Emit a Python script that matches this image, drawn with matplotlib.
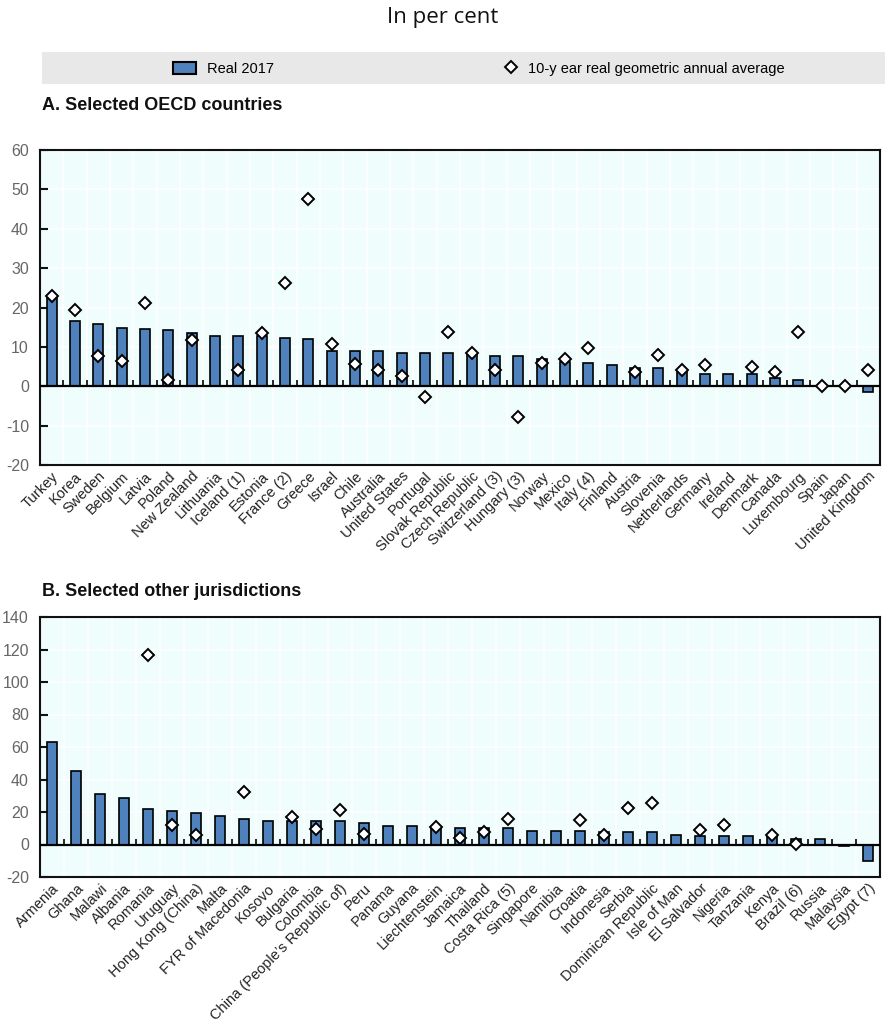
import numpy as np
import matplotlib
matplotlib.use("Agg")
import matplotlib.pyplot as plt
from matplotlib.patches import Rectangle
from matplotlib.lines import Line2D
from matplotlib import font_manager

nan = np.nan

# ---------------- Data ----------------
countries_a = ["Turkey", "Korea", "Sweden", "Belgium", "Latvia", "Poland", "New Zealand",
               "Lithuania", "Iceland (1)", "Estonia", "France (2)", "Greece", "Israel", "Chile",
               "Australia", "United States", "Portugal", "Slovak Republic", "Czech Republic",
               "Switzerland (3)", "Hungary (3)", "Norway", "Mexico", "Italy (4)", "Finland",
               "Austria", "Slovenia", "Netherlands", "Germany", "Ireland", "Denmark", "Canada",
               "Luxembourg", "Spain", "Japan", "United Kingdom"]
real2017_a = [22.6, 16.5, 15.8, 14.8, 14.5, 14.4, 13.6, 12.7, 12.7, 12.7, 12.3, 11.9, 8.9, 8.9,
              8.9, 8.5, 8.5, 8.5, 8.2, 7.6, 7.6, 6.8, 6.1, 5.9, 5.5, 4.7, 4.7, 4.0, 3.0, 3.0,
              3.0, 2.0, 1.7, 0.0, 0.0, -1.4]
avg10_a = [22.8, 19.4, 7.8, 6.5, 21.1, 1.5, 11.7, nan, 4.1, 13.4, 26.2, 47.5, 10.8, 5.7,
           4.1, 2.7, -2.8, 13.8, 8.4, 4.1, -7.9, 5.8, 7.0, 9.6, nan, 3.6, 7.9, 4.1, 5.3, nan,
           4.9, 3.6, 13.8, 0.1, 0.1, 4.1]

countries_b = ["Armenia", "Ghana", "Malawi", "Albania", "Romania", "Uruguay", "Hong Kong (China)",
               "Malta", "FYR of Macedonia", "Kosovo", "Bulgaria", "Colombia",
               "China (People\u2019s Republic of)", "Peru", "Panama", "Guyana", "Liechtenstein",
               "Jamaica", "Thailand", "Costa Rica (5)", "Singapore", "Namibia", "Croatia",
               "Indonesia", "Serbia", "Dominican Republic", "Isle of Man", "El Salvador",
               "Nigeria", "Tanzania", "Kenya", "Brazil (6)", "Russia", "Malaysia", "Egypt (7)"]
real2017_b = [62.8, 45.4, 31.1, 28.9, 21.7, 20.7, 19.6, 17.6, 15.6, 14.5, 14.5, 14.5, 14.5, 13.5,
              11.5, 11.5, 10.4, 10.4, 10.4, 10.4, 8.4, 8.4, 8.4, 7.4, 7.4, 7.4, 6.1, 5.1, 5.1,
              5.1, 5.1, 3.1, 3.1, -1.0, -10.4]
avg10_b = [nan, nan, nan, nan, 116.9, 11.7, 5.7, nan, 32.3, nan, 17.0, 9.8, 21.1, 6.5, nan, nan,
           10.8, 3.7, 7.8, 16.0, nan, nan, 14.9, 5.7, 22.3, 25.4, nan, 8.8, 11.9, nan, 5.7,
           0.6, nan, nan, nan]

yticks_a = [-20, -10, 0, 10, 20, 30, 40, 50, 60]
yticks_b = [-20, 0, 20, 40, 60, 80, 100, 120, 140]

legend_labels = ["Real 2017", "10-y ear real geometric annual average"]
title = "In per cent"
panel_a_title = "A. Selected OECD countries"
panel_b_title = "B. Selected other jurisdictions"

# ---------------- Style ----------------
avail = {f.name for f in font_manager.fontManager.ttflist}
narrow = ["Liberation Sans Narrow", "Liberation Sans", "DejaVu Sans"]
narrow = [f for f in narrow if f in avail] or ["DejaVu Sans"]
plt.rcParams["font.family"] = narrow

BAR = "#4F81BD"
BG = "#F0FDFD"
W, H = 885, 1028
fig = plt.figure(figsize=(W / 100, H / 100), dpi=100)


def fx(px):
    return px / W


def fy(py):
    return 1 - py / H


fig.text(0.5, fy(18), title, ha="center", va="center", fontsize=16,
         family=["Open Sans", "DejaVu Sans"], color="#111111")

# legend band
fig.patches.append(Rectangle((fx(42), fy(84)), 1 - fx(42), (84 - 52) / H,
                             transform=fig.transFigure, facecolor="#E8E8E8",
                             edgecolor="none", zorder=0))
h_bar = Rectangle((0, 0), 1, 1, facecolor=BAR, edgecolor="black", linewidth=1.5)
h_dia = Line2D([], [], linestyle="none", marker="D", markersize=6.5,
               markerfacecolor="white", markeredgecolor="black", markeredgewidth=1.4)
fig.legend([h_bar], [legend_labels[0]], loc="center left", bbox_to_anchor=(fx(173), fy(69)),
           frameon=False, fontsize=10.5, handlelength=1.6, handleheight=0.9,
           handletextpad=0.75, borderpad=0, borderaxespad=0)
fig.legend([h_dia], [legend_labels[1]], loc="center left", bbox_to_anchor=(fx(499), fy(69)),
           frameon=False, fontsize=10.5, handlelength=1.6, handleheight=0.9,
           handletextpad=0.4, borderpad=0, borderaxespad=0)

fig.text(fx(42), fy(105), panel_a_title, ha="left", va="center", fontsize=13,
         fontweight="bold", color="#111111")
fig.text(fx(42), fy(591), panel_b_title, ha="left", va="center", fontsize=13,
         fontweight="bold", color="#111111")


def panel(rect, cats, bars, avgs, yticks):
    ax = fig.add_axes(rect)
    ax.set_facecolor(BG)
    n = len(cats)
    x = np.arange(n)
    ax.set_xlim(-0.5, n - 0.5)
    ax.set_ylim(yticks[0], yticks[-1])
    bounds = np.arange(n - 1) + 0.5
    ax.set_xticks(bounds, minor=True)
    ax.set_xticks(x)
    ax.set_xticklabels(cats, rotation=45, ha="right", rotation_mode="anchor",
                       fontsize=10.5, color="#222222")
    ax.tick_params(axis="x", which="both", length=0, pad=3)
    ax.set_yticks(yticks)
    ax.set_yticklabels([str(t) for t in yticks], fontsize=11.5, color="#666666")
    ax.tick_params(axis="y", length=6, width=1.5, direction="in", color="#111111", pad=8)
    ax.grid(True, axis="y", which="major", color="white", linewidth=1.2)
    ax.grid(True, axis="x", which="minor", color="white", linewidth=1.2)
    ax.set_axisbelow(True)
    for s in ax.spines.values():
        s.set_linewidth(1.5)
        s.set_color("#111111")
    ax.bar(x, bars, width=0.42, color=BAR, edgecolor="black", linewidth=1.2, zorder=2)
    ax.axhline(0, color="black", linewidth=1.6, zorder=3)
    ax.plot(bounds, np.zeros_like(bounds), linestyle="none", marker=2, markersize=4,
            color="black", markeredgewidth=1.2, zorder=3)
    ax.plot(x, avgs, linestyle="none", marker="D", markersize=6.5, markerfacecolor="white",
            markeredgecolor="black", markeredgewidth=1.4, zorder=4)
    return ax


panel([fx(40), fy(465), fx(880) - fx(40), (465 - 150) / H],
      countries_a, real2017_a, avg10_a, yticks_a)
panel([fx(40), fy(877), fx(880) - fx(40), (877 - 617) / H],
      countries_b, real2017_b, avg10_b, yticks_b)

fig.savefig("out.png", dpi=100, facecolor="white")
